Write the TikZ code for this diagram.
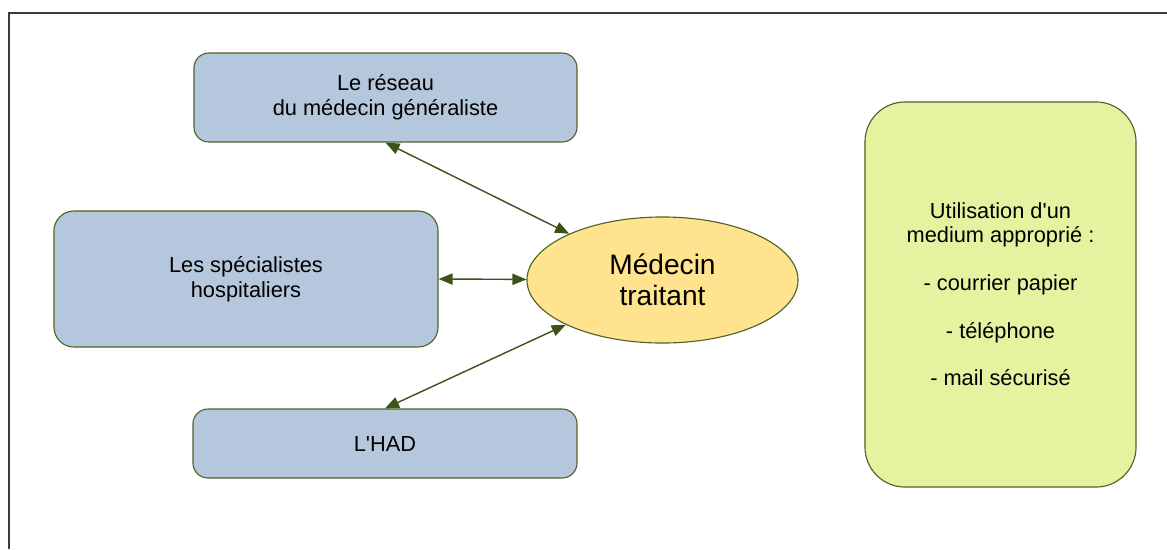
\documentclass[tikz,border=0pt]{standalone}
\usepackage{fontspec}
\setmainfont{Liberation Sans}
\usetikzlibrary{arrows.meta,shapes.geometric}
\definecolor{boxblue}{HTML}{B4C7DC}
\definecolor{boxline}{HTML}{4F6228}
\definecolor{ellyellow}{HTML}{FFE38F}
\definecolor{notegreen}{HTML}{E6F2A0}
\definecolor{arrowgreen}{HTML}{3D5218}
\definecolor{framegray}{HTML}{3A3A3A}

\begin{document}
\begin{tikzpicture}[x=0.025cm,y=-0.025cm,
  bluebox/.style={rectangle, rounded corners=0.375cm, draw=boxline, fill=boxblue, line width=0.8pt, align=center, font=\fontsize{15.5pt}{17.5pt}\selectfont},
  link/.style={{Triangle[length=10pt,width=8pt]}-{Triangle[length=10pt,width=8pt]}, line width=1pt, draw=arrowgreen, fill=arrowgreen}]
\useasboundingbox (0,0) rectangle (1167,549);
\draw [framegray, line width=1.3pt] (9,549) -- (9,13) -- (1167,13);

\node (reseau) [bluebox, minimum width=9.575cm, minimum height=2.225cm] at (385.5,97.5) {Le réseau\\du médecin généraliste};
\node (specialistes) [bluebox, minimum width=9.6cm, minimum height=3.4cm, rounded corners=0.5cm] at (246,279) {Les spécialistes\\hospitaliers};
\node (had) [bluebox, minimum width=9.6cm, minimum height=1.725cm] at (385,443.5) {L\textquotesingle HAD};
\node (medecin) [ellipse, draw=boxline, fill=ellyellow, line width=0.8pt, inner sep=0pt, minimum width=6.775cm, minimum height=3.15cm, align=center, font=\fontsize{20pt}{22pt}\selectfont] at (662.5,280) {Médecin\\traitant};
\node (medium) [rectangle, rounded corners=1cm, draw=boxline, fill=notegreen, line width=0.8pt, minimum width=6.775cm, minimum height=9.625cm, align=center, font=\fontsize{15.5pt}{17pt}\selectfont] at (1000.5,294.5) {Utilisation d\textquotesingle un\\medium approprié :\\[17pt]- courrier papier\\[17pt]- téléphone\\[17pt]- mail sécurisé};

\draw [link] (reseau.south) -- (medecin);
\draw [link] (specialistes.east) -- (medecin);
\draw [link] (had.north) -- (medecin);

\end{tikzpicture}
\end{document}
